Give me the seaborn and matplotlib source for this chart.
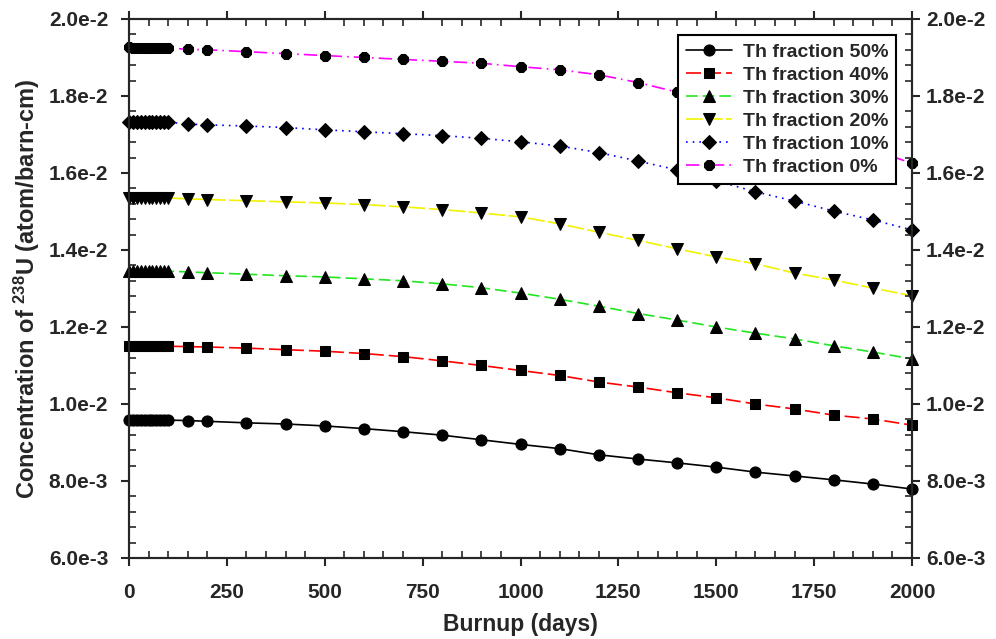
import seaborn as sns
import pandas as pd
import matplotlib.pyplot as plt
from matplotlib.ticker import MultipleLocator

# burnup days
days = [0, 10, 20, 30, 40, 50, 60, 70, 80, 90, 100, 150, 200,
        300, 400, 500, 600, 700, 800, 900, 1000, 1100, 1200, 1300,
        1400, 1500, 1600, 1700, 1800, 1900, 2000]

# 238U concentration for each Th fraction
th50 = [0.009590, 0.009589, 0.009588, 0.009587, 0.009586, 0.009585, 0.009584, 0.009583,
        0.009582, 0.009581, 0.009580, 0.009570, 0.009550, 0.009510, 0.009480, 0.009430,
        0.009360, 0.009280, 0.009190, 0.009070, 0.008950, 0.008840, 0.008680, 0.008570,
        0.008470, 0.008360, 0.008230, 0.008130, 0.008030, 0.007920, 0.007790]
th40 = [0.011510, 0.011509, 0.011508, 0.011507, 0.011506, 0.011505, 0.011504, 0.011503,
        0.011502, 0.011501, 0.011500, 0.011490, 0.011480, 0.011450, 0.011410, 0.011370,
        0.011310, 0.011230, 0.011120, 0.011000, 0.010870, 0.010740, 0.010570, 0.010440,
        0.010290, 0.010160, 0.010000, 0.009870, 0.009710, 0.009610, 0.009450]
th30 = [0.013460, 0.013459, 0.013458, 0.013457, 0.013456, 0.013455, 0.013454, 0.013453,
        0.013452, 0.013451, 0.013450, 0.013430, 0.013410, 0.013370, 0.013330, 0.013300,
        0.013250, 0.013200, 0.013120, 0.013020, 0.012880, 0.012720, 0.012540, 0.012350,
        0.012180, 0.012000, 0.011840, 0.011690, 0.011510, 0.011350, 0.011170]
th20 = [0.015360, 0.015359, 0.015358, 0.015357, 0.015356, 0.015355, 0.015354, 0.015353,
        0.015352, 0.015351, 0.015350, 0.015330, 0.015310, 0.015280, 0.015250, 0.015220,
        0.015180, 0.015120, 0.015050, 0.014960, 0.014860, 0.014680, 0.014460, 0.014250,
        0.014030, 0.013820, 0.013640, 0.013400, 0.013220, 0.013010, 0.012810]
th10 = [0.017330, 0.017329, 0.017328, 0.017327, 0.017326, 0.017325, 0.017324, 0.017323,
        0.017322, 0.017321, 0.017320, 0.017270, 0.017250, 0.017220, 0.017180, 0.017120,
        0.017070, 0.017020, 0.016970, 0.016900, 0.016810, 0.016700, 0.016530, 0.016310,
        0.016080, 0.015800, 0.015510, 0.015270, 0.015010, 0.014780, 0.014520]
th0 = [0.019260, 0.019259, 0.019258, 0.019257, 0.019256, 0.019255, 0.019254, 0.019253,
       0.019252, 0.019251, 0.019250, 0.019210, 0.019200, 0.019150, 0.019100, 0.019050,
       0.019000, 0.018950, 0.018900, 0.018850, 0.018760, 0.018680, 0.018550, 0.018350,
       0.018100, 0.017800, 0.017500, 0.017200, 0.016900, 0.016600, 0.016250]

labels = ["Th fraction 50%", "Th fraction 40%", "Th fraction 30%",
          "Th fraction 20%", "Th fraction 10%", "Th fraction 0%"]
series = [th50, th40, th30, th20, th10, th0]
colors = ["black", "red", "#22e622", "#f2f200", "blue", "magenta"]
markers = ["o", "s", "^", "v", "D", "8"]
styles = ["-", (0, (9, 3)), (0, (7, 3)), (0, (10, 2)), (0, (1, 3)), (0, (8, 3, 1, 3))]
msizes = [8, 7.5, 8, 8, 7.2, 8.5]

yt = [0.006, 0.008, 0.010, 0.012, 0.014, 0.016, 0.018, 0.020]
yt_labels = ["6.0e-3", "8.0e-3", "1.0e-2", "1.2e-2", "1.4e-2", "1.6e-2", "1.8e-2", "2.0e-2"]

sns.set_style("ticks")
plt.rcParams["font.family"] = ["Liberation Sans", "DejaVu Sans"]
plt.rcParams["font.weight"] = "bold"
plt.rcParams["mathtext.fontset"] = "custom"
plt.rcParams["mathtext.bf"] = "Liberation Sans:bold"
plt.rcParams["mathtext.rm"] = "Liberation Sans:bold"
plt.rcParams["mathtext.default"] = "bf"

fig = plt.figure(figsize=(9.96, 6.39), dpi=100)
ax = fig.add_axes([0.1295, 0.1268, 0.7862, 0.8435])

for lab, vals, c, m, ls, ms in zip(labels, series, colors, markers, styles, msizes):
    df = pd.DataFrame({"days": days, "conc": vals})
    sns.lineplot(data=df, x="days", y="conc", ax=ax, color=c, linestyle=ls,
                 linewidth=1.2, marker=m, markersize=ms, markerfacecolor="black",
                 markeredgecolor="black", label=lab, clip_on=False, zorder=3)

handles, labs = ax.get_legend_handles_labels()
if ax.get_legend() is not None:
    ax.get_legend().remove()

ax.set_xlim(0, 2000)
ax.set_ylim(0.006, 0.020)
ax.set_xticks(range(0, 2001, 250))
ax.xaxis.set_minor_locator(MultipleLocator(50))
ax.set_yticks(yt)
ax.set_yticklabels(yt_labels)
ax.yaxis.set_minor_locator(MultipleLocator(0.0004))

# right axis with its own labels
ax2 = ax.twinx()
ax2.set_ylim(ax.get_ylim())
ax2.set_yticks(yt)
ax2.set_yticklabels(yt_labels)
ax2.yaxis.set_minor_locator(MultipleLocator(0.0004))
ax2.tick_params(which="major", direction="out", length=6, width=1.5,
                labelsize=15, pad=4)
ax2.tick_params(which="minor", direction="in", length=5, width=1.2)

ax.tick_params(which="major", direction="out", length=6, width=1.5,
               top=True, right=False, labelsize=15)
ax.tick_params(axis="y", which="major", pad=9)
ax.tick_params(axis="x", which="major", pad=12)
ax.tick_params(which="minor", direction="in", length=5, width=1.2,
               top=True, right=False)
for lab in ax.get_xticklabels() + ax.get_yticklabels() + ax2.get_yticklabels():
    lab.set_fontweight("bold")
for a in (ax, ax2):
    for sp in a.spines.values():
        sp.set_linewidth(1.5)
        sp.set_visible(True)

ax.set_xlabel("Burnup (days)", fontsize=16.5, fontweight="bold", labelpad=8)
ax.set_ylabel("Concentration of $^{238}$U (atom/barn-cm)", fontsize=17,
              fontweight="bold", labelpad=5)

leg = ax2.legend(handles, labs, loc="upper right", bbox_to_anchor=(0.980, 0.970),
                 fancybox=False, edgecolor="black", framealpha=1, fontsize=14,
                 handlelength=2.4, borderpad=0.4, labelspacing=0.28,
                 handletextpad=0.55, borderaxespad=0)
leg.get_frame().set_linewidth(1.5)
for t in leg.get_texts():
    t.set_fontweight("bold")

fig.savefig("out.png", dpi=100)
